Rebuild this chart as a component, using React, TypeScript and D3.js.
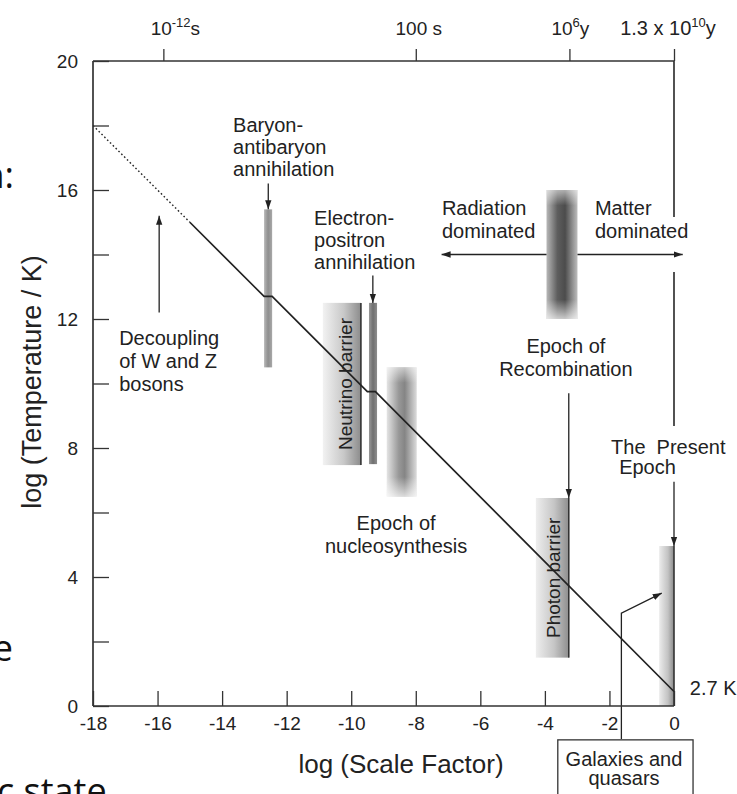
import { useEffect, useRef } from 'react'
import * as d3 from 'd3'

const W = 737
const H = 794

// bottom axis: log (scale factor)
const xTicks = [-18, -16, -14, -12, -10, -8, -6, -4, -2, 0]
// left axis: log (temperature / K)
const yTicks = [0, 2, 4, 6, 8, 10, 12, 14, 16, 18, 20]
const yLabelled = [0, 4, 8, 12, 16, 20]

// time axis along the top
const timeTicks = [-15.82, -8, -3.24, 0]
const timeBase = ['10', '100 s', '10', '1.3 x 10']
const timeSup = ['-12', '', '6', '10']
const timeUnit = ['s', '', 'y', 'y']

// temperature history [log a, log T]
const dottedTrack = [[-18, 18], [-15, 15]]
const tempTrack = [[-15, 15], [-12.7, 12.7], [-12.45, 12.7], [-9.5, 9.75], [-9.25, 9.75], [0, 0.45]]

// shaded epochs: name, x0, x1, y0, y1
const bands: [string, number, number, number, number][] = [
  ['baryon', -12.7, -12.45, 10.5, 15.4],
  ['neutrino', -10.88, -9.7, 7.47, 12.5],
  ['electron', -9.45, -9.2, 7.5, 12.5],
  ['nucleo', -8.9, -7.97, 6.5, 10.5],
  ['recomb', -3.95, -2.99, 12, 16],
  ['photon', -4.28, -3.26, 1.5, 6.45],
  ['present', -0.46, 0, 0, 4.96],
]

// arrows, last point is the head
const arrows = [
  [[-15.95, 12.2], [-15.95, 15.2]],
  [[-12.57, 16.2], [-12.57, 15.4]],
  [[-9.33, 13.35], [-9.33, 12.5]],
  [[-3.95, 14], [-7.2, 14]],
  [[-2.99, 14], [0.27, 14]],
  [[-3.26, 9.7], [-3.26, 6.45]],
  [[0, 6.95], [0, 4.96]],
  [[-1.63, -1.02], [-1.63, 2.88], [-0.38, 3.5]],
]

// right edge of frame (broken by the labels)
const rightEdge = [[20, 15.16], [13.46, 8.68]]

const notes = [
  { lines: ['Baryon-', 'antibaryon', 'annihilation'], at: [-13.66, 17.8], anchor: 'start', gap: 22 },
  { lines: ['Electron-', 'positron', 'annihilation'], at: [-11.15, 14.91], anchor: 'start', gap: 22 },
  { lines: ['Decoupling', 'of W and Z', 'bosons'], at: [-17.19, 11.19], anchor: 'start', gap: 23 },
  { lines: ['Radiation', 'dominated'], at: [-7.19, 15.22], anchor: 'start', gap: 23 },
  { lines: ['Matter', 'dominated'], at: [-2.45, 15.22], anchor: 'start', gap: 23 },
  { lines: ['Epoch of', 'Recombination'], at: [-3.35, 10.95], anchor: 'middle', gap: 23 },
  { lines: ['The  Present'], at: [-1.95, 7.81], anchor: 'start', gap: 20 },
  { lines: ['Epoch'], at: [-1.7, 7.19], anchor: 'start', gap: 20 },
  { lines: ['Epoch of', 'nucleosynthesis'], at: [-8.61, 5.46], anchor: 'middle', gap: 23 },
  { lines: ['2.7 K'], at: [0.49, 0.34], anchor: 'start', gap: 20 },
  { lines: ['Galaxies and', 'quasars'], at: [-1.55, -1.86], anchor: 'middle', gap: 19 },
]
const galaxyBox = [[-3.6, -1.05], [0.59, -3]]

// bits of the slide text next to the figure
const fragments = [
  { t: 'n:', x: 14, y: 188, anchor: 'end' },
  { t: 'e', x: 13, y: 661, anchor: 'end' },
  { t: 'c state', x: -3, y: 804, anchor: 'start' },
]

export default function App() {
  const svgRef = useRef<SVGSVGElement>(null)

  useEffect(() => {
    const svg = d3.select(svgRef.current)
    svg.selectAll('*').remove()
    svg.attr('width', W).attr('height', H)

    const ink = '#222'
    const font = 'Liberation Sans, Arial, sans-serif'

    const x = d3.scaleLinear().domain([-18, 0]).range([93, 674])
    const y = d3.scaleLinear().domain([0, 20]).range([706, 61])

    svg.append('rect').attr('width', W).attr('height', H).attr('fill', '#fff')

    const defs = svg.append('defs')
    const grad = (id: string, stops: [number, string][]) => {
      const g = defs.append('linearGradient').attr('id', id)
      stops.forEach(([o, c]) => g.append('stop').attr('offset', o).attr('stop-color', c))
    }
    grad('g-baryon', [[0, '#b8b8b8'], [0.5, '#8e8e8e'], [1, '#a8a8a8']])
    grad('g-electron', [[0, '#9a9a9a'], [0.5, '#6f6f6f'], [1, '#8e8e8e']])
    grad('g-neutrino', [[0, '#f2f2f2'], [0.55, '#c8c8c8'], [1, '#8c8c8c']])
    grad('g-photon', [[0, '#eeeeee'], [0.55, '#c6c6c6'], [1, '#8e8e8e']])
    grad('g-present', [[0, '#ececec'], [0.6, '#c2c2c2'], [1, '#8a8a8a']])
    grad('g-nucleo', [[0, '#e4e4e4'], [0.4, '#989898'], [0.6, '#858585'], [1, '#dcdcdc']])
    grad('g-recomb', [[0, '#b8b8b8'], [0.35, '#5e5e5e'], [0.6, '#4c4c4c'], [1, '#bdbdbd']])

    const fade = defs.append('linearGradient').attr('id', 'g-fade').attr('x2', 0).attr('y2', 1)
    ;[[0, 0.55], [0.12, 0], [0.85, 0], [1, 0.7]].forEach(([o, a]) =>
      fade.append('stop').attr('offset', o).attr('stop-color', '#fff').attr('stop-opacity', a))

    defs.append('marker')
      .attr('id', 'head')
      .attr('viewBox', '0 0 10 10')
      .attr('refX', 10).attr('refY', 5)
      .attr('markerWidth', 9).attr('markerHeight', 9)
      .attr('markerUnits', 'userSpaceOnUse')
      .attr('orient', 'auto')
      .append('path').attr('d', 'M0,1.5 L10,5 L0,8.5 Z').attr('fill', ink)

    // shaded epochs
    bands.forEach(([name, x0, x1, y0, y1]) => {
      svg.append('rect')
        .attr('x', x(x0)).attr('y', y(y1))
        .attr('width', x(x1) - x(x0)).attr('height', y(y0) - y(y1))
        .attr('fill', `url(#g-${name})`)
      if (name === 'nucleo' || name === 'recomb') {
        svg.append('rect')
          .attr('x', x(x0)).attr('y', y(y1))
          .attr('width', x(x1) - x(x0)).attr('height', y(y0) - y(y1))
          .attr('fill', 'url(#g-fade)')
      }
      if (name === 'neutrino' || name === 'photon' || name === 'present') {
        svg.append('line')
          .attr('x1', x(x1)).attr('x2', x(x1))
          .attr('y1', y(y1)).attr('y2', y(y0))
          .attr('stroke', '#333').attr('stroke-width', 1.6)
      }
    })

    // rotated barrier names
    const barrierText = (name: string, label: string) => {
      const b = bands.find(d => d[0] === name)!
      svg.append('text')
        .attr('transform', `translate(${x(b[2]) - 9},${(y(b[3]) + y(b[4])) / 2}) rotate(-90)`)
        .attr('text-anchor', 'middle')
        .attr('font-family', font).attr('font-size', 19).attr('fill', ink)
        .text(label)
    }
    barrierText('neutrino', 'Neutrino barrier')
    barrierText('photon', 'Photon barrier')

    // temperature track
    const line = d3.line<number[]>().x(d => x(d[0])).y(d => y(d[1]))
    svg.append('path').attr('d', line(dottedTrack))
      .attr('fill', 'none').attr('stroke', ink).attr('stroke-width', 1.4)
      .attr('stroke-dasharray', '1.6,2.4')
    svg.append('path').attr('d', line(tempTrack))
      .attr('fill', 'none').attr('stroke', ink).attr('stroke-width', 1.7)

    // arrows
    arrows.forEach(pts => {
      svg.append('path').attr('d', line(pts))
        .attr('fill', 'none').attr('stroke', ink).attr('stroke-width', 1.3)
        .attr('marker-end', 'url(#head)')
    })

    // frame
    const frame = svg.append('g').attr('stroke', '#333').attr('stroke-width', 1.7)
    frame.append('line').attr('x1', x(-18)).attr('x2', x(-18)).attr('y1', y(20)).attr('y2', y(0))
    frame.append('line').attr('x1', x(-18)).attr('x2', x(0)).attr('y1', y(20)).attr('y2', y(20))
    frame.append('line').attr('x1', x(-18)).attr('x2', x(0)).attr('y1', y(0)).attr('y2', y(0))
    rightEdge.forEach(([a, b]) => {
      frame.append('line').attr('x1', x(0)).attr('x2', x(0)).attr('y1', y(a)).attr('y2', y(b))
    })

    const styleAxis = (g: d3.Selection<SVGGElement, unknown, null, undefined>) => {
      g.select('.domain').remove()
      g.selectAll('line').attr('stroke', '#333').attr('stroke-width', 1.3)
      g.selectAll('text').attr('fill', ink).attr('font-family', font).attr('font-size', 19)
    }

    svg.append('g')
      .attr('transform', `translate(0,${y(0)})`)
      .call(d3.axisBottom(x).tickValues(xTicks).tickSize(-15).tickPadding(11).tickFormat(d => String(d)))
      .call(styleAxis)

    svg.append('g')
      .attr('transform', `translate(${x(-18)},0)`)
      .call(d3.axisLeft(y).tickValues(yTicks).tickSize(-16).tickPadding(15)
        .tickFormat(d => (yLabelled.includes(+d) ? String(d) : '')))
      .call(styleAxis)

    svg.append('g')
      .attr('transform', `translate(0,${y(20)})`)
      .call(d3.axisTop(x).tickValues(timeTicks).tickSize(12).tickFormat(() => ''))
      .call(styleAxis)

    // time labels with superscripts
    const timeShift = [12, 3, 1, -6]
    timeTicks.forEach((t, i) => {
      const txt = svg.append('text')
        .attr('x', x(t) + timeShift[i]).attr('y', 35)
        .attr('text-anchor', 'middle')
        .attr('font-family', font).attr('font-size', i === 3 ? 20 : 19).attr('fill', ink)
      txt.append('tspan').text(timeBase[i])
      if (timeSup[i]) {
        txt.append('tspan').attr('dy', -8).attr('font-size', 13).text(timeSup[i])
        txt.append('tspan').attr('dy', 8).text(timeUnit[i])
      }
    })

    // axis titles
    svg.append('text')
      .attr('x', 401).attr('y', 773)
      .attr('text-anchor', 'middle')
      .attr('font-family', font).attr('font-size', 26).attr('fill', ink)
      .text('log (Scale Factor)')
    svg.append('text')
      .attr('transform', 'translate(41,382) rotate(-90)')
      .attr('text-anchor', 'middle')
      .attr('font-family', font).attr('font-size', 27).attr('fill', ink)
      .text('log (Temperature / K)')

    // annotations
    notes.forEach(n => {
      const t = svg.append('text')
        .attr('x', x(n.at[0])).attr('y', y(n.at[1]))
        .attr('text-anchor', n.anchor)
        .attr('font-family', font).attr('font-size', 20).attr('fill', ink)
        .style('white-space', 'pre')
      n.lines.forEach((s, i) => {
        t.append('tspan').attr('x', x(n.at[0])).attr('dy', i === 0 ? 0 : n.gap).text(s)
      })
    })

    svg.append('rect')
      .attr('x', x(galaxyBox[0][0])).attr('y', y(galaxyBox[0][1]))
      .attr('width', x(galaxyBox[1][0]) - x(galaxyBox[0][0]))
      .attr('height', y(galaxyBox[1][1]) - y(galaxyBox[0][1]))
      .attr('fill', 'none').attr('stroke', '#333').attr('stroke-width', 1.3)

    fragments.forEach(f => {
      svg.append('text')
        .attr('x', f.x).attr('y', f.y)
        .attr('text-anchor', f.anchor)
        .attr('font-family', 'Open Sans, sans-serif').attr('font-size', 36).attr('fill', '#111')
        .text(f.t)
    })
  }, [])

  return <svg ref={svgRef} style={{ position: 'absolute', left: 0, top: 0, display: 'block' }} />
}
